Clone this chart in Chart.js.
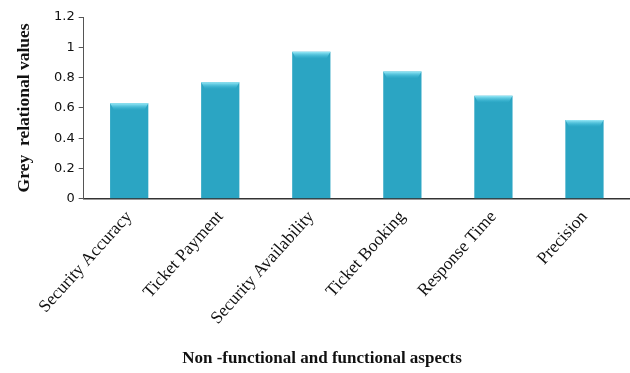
<!DOCTYPE html>
<html>
<head>
<meta charset="utf-8">
<script src="https://cdn.jsdelivr.net/npm/chart.js@4/dist/chart.umd.min.js"></script>
<style>
html,body{margin:0;padding:0;background:#fff;}
#wrap{width:630px;height:373px;position:relative;}
</style>
</head>
<body>
<div id="wrap"><canvas id="c"></canvas></div>
<script>
const categories = ["Security Accuracy","Ticket Payment","Security Availability","Ticket Booking","Response Time","Precision"];
const greyValues = [0.63, 0.77, 0.97, 0.84, 0.68, 0.52];
const yTickLabels = ["0","0.2","0.4","0.6","0.8","1","1.2"];
const yTitle = "Grey  relational values";
const xTitle = "Non -functional and functional aspects";

function barFill(ctx){
  const chart = ctx.chart;
  const el = ctx.element;
  if(!chart.chartArea || !el || el.width === undefined) return '#2ba5c3';
  const half = el.width/2;
  const g = chart.ctx.createLinearGradient(el.x-half,0,el.x+half,0);
  g.addColorStop(0,'#176a80');
  g.addColorStop(0.1,'#2698b5');
  g.addColorStop(0.45,'#31afcd');
  g.addColorStop(0.88,'#2698b5');
  g.addColorStop(1,'#155f74');
  return g;
}

const topBevel = {
  id:'topBevel',
  afterDatasetsDraw(chart){
    const c = chart.ctx;
    const meta = chart.getDatasetMeta(0);
    meta.data.forEach(b=>{
      const half=b.width/2, t=b.y;
      const g=c.createLinearGradient(0,t,0,t+7);
      g.addColorStop(0,'#9aeaf8');
      g.addColorStop(1,'rgba(60,190,220,0)');
      c.save();
      c.beginPath();
      c.moveTo(b.x-half,t);c.lineTo(b.x+half,t);c.lineTo(b.x+half-4,t+7);c.lineTo(b.x-half+4,t+7);c.closePath();
      c.fillStyle=g;c.fill();
      c.restore();
    });
  }
};

new Chart(document.getElementById('c'),{
  type:'bar',
  data:{labels:categories,datasets:[{data:greyValues,backgroundColor:barFill,borderWidth:0,categoryPercentage:1,barPercentage:0.42}]},
  plugins:[topBevel],
  options:{
    responsive:true,maintainAspectRatio:false,animation:false,
    layout:{padding:{left:14,right:0,top:17,bottom:2}},
    plugins:{
      legend:{display:false},tooltip:{enabled:false},
      title:{display:true,text:xTitle,position:'bottom',color:'#111',font:{family:'"Liberation Serif"',size:17,weight:'bold'},padding:{top:20,bottom:2}}
    },
    scales:{
      x:{
        grid:{display:false},
        border:{display:true,color:'#333',width:1.5},
        ticks:{color:'#111',font:{family:'"Liberation Serif"',size:17.5},minRotation:48,maxRotation:48,padding:0,autoSkip:false}
      },
      y:{
        min:0,max:1.2,
        afterBuildTicks(s){s.ticks=yTickLabels.map(v=>({value:parseFloat(v)}));},
        grid:{display:true,drawOnChartArea:false,tickLength:5,color:'#555'},
        border:{display:true,color:'#555',width:1},
        ticks:{color:'#111',font:{family:'"DejaVu Sans"',size:13},padding:4,callback:(v,i)=>yTickLabels[i]},
        title:{display:true,text:yTitle,color:'#111',font:{family:'"Liberation Serif"',size:17.5,weight:'bold'},padding:{top:0,bottom:15}}
      }
    }
  }
});
</script>
</body>
</html>
